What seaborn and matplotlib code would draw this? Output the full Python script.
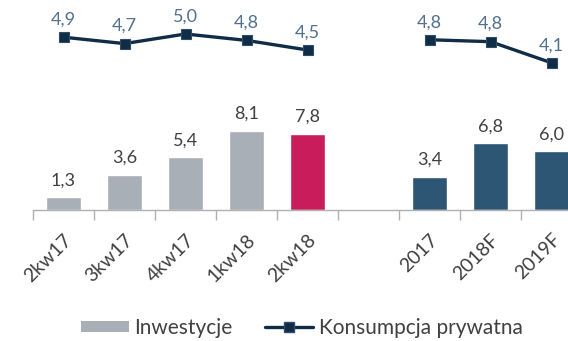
import matplotlib
matplotlib.use("Agg")
import matplotlib.pyplot as plt
from matplotlib.patches import Patch
from matplotlib.lines import Line2D
import numpy as np
import pandas as pd
import seaborn as sns

# Categories (a blank slot separates quarterly and annual data)
categories = ["2kw17", "3kw17", "4kw17", "1kw18", "2kw18", " ", "2017", "2018F", "2019F"]

# Investment growth (bars)
inv_labels = ["2kw17", "3kw17", "4kw17", "1kw18", "2kw18", "2017", "2018F", "2019F"]
inv_values = [1.3, 3.6, 5.4, 8.1, 7.8, 3.4, 6.8, 6.0]

# Private consumption growth (line), two separate segments
cons_labels = ["2kw17", "3kw17", "4kw17", "1kw18", "2kw18", "2017", "2018F", "2019F"]
cons_values = [4.9, 4.7, 5.0, 4.8, 4.5, 4.82, 4.76, 4.1]
cons_groups = ["q", "q", "q", "q", "q", "y", "y", "y"]

GRAY = "#a8afb6"
CRIMSON = "#c81d5a"
BLUE = "#2d5574"
NAVY = "#102c47"
LINE_LBL = "#52708f"
TXT = "#404040"

bar_colors = {c: GRAY for c in ["2kw17", "3kw17", "4kw17", "1kw18"]}
bar_colors["2kw18"] = CRIMSON
bar_colors.update({c: BLUE for c in ["2017", "2018F", "2019F"]})

sns.set_theme(style="white")
plt.rcParams["font.family"] = ["Lato", "DejaVu Sans"]

fig = plt.figure(figsize=(5.68, 3.41), dpi=100)
ax = fig.add_axes([33 / 568, 1 - 210 / 341, 549 / 568, 200 / 341])

df_bar = pd.DataFrame({"cat": inv_labels, "val": inv_values})
sns.barplot(data=df_bar, x="cat", y="val", hue="cat", order=categories,
            palette=bar_colors, width=0.56, legend=False, ax=ax, saturation=1)
ax.set_ylim(0, 20.4)
ax.set_xlim(-0.5, 8.5)

for lab, v in zip(inv_labels, inv_values):
    x = categories.index(lab)
    ax.text(x, v + 0.9, f"{v:.1f}".replace(".", ","), ha="center", va="bottom",
            fontsize=13, color=TXT)

# axis styling
for s in ["top", "right", "left"]:
    ax.spines[s].set_visible(False)
ax.spines["bottom"].set_color("#b0b0b0")
ax.spines["bottom"].set_linewidth(1.0)
ax.set_yticks([])
ax.set_xlabel("")
ax.set_ylabel("")
ax.set_xticks(range(len(categories)))
ax.set_xticklabels(categories, rotation=45, ha="right", rotation_mode="anchor",
                   fontsize=14, color=TXT)
ax.tick_params(axis="x", which="major", length=0, pad=15)
ax.set_xticks(np.arange(-0.5, len(categories), 1.0), minor=True)
ax.tick_params(axis="x", which="minor", length=7, width=1.0, color="#b0b0b0",
               bottom=True)

# Consumption line on a secondary scale
ax2 = ax.twinx()
df_line = pd.DataFrame({"pos": [categories.index(c) for c in cons_labels],
                        "val": cons_values, "grp": cons_groups})
sns.lineplot(data=df_line, x="pos", y="val", units="grp", estimator=None,
             color=NAVY, lw=2.4, marker="s", markersize=7,
             markeredgecolor="#2f4c6a", markeredgewidth=0.8, ax=ax2)
ax2.set_ylim(-0.5, 5.75)
ax2.set_xlim(-0.5, 8.5)
ax2.set_yticks([])
ax2.set_ylabel("")
ax2.set_xlabel("")
for s in ["top", "right", "left", "bottom"]:
    ax2.spines[s].set_visible(False)
for lab, v in zip(cons_labels, cons_values):
    x = categories.index(lab)
    ax2.text(x, v + 0.3, f"{v:.1f}".replace(".", ","), ha="center", va="bottom",
             fontsize=13, color=LINE_LBL)

handles = [Patch(facecolor=GRAY, edgecolor="none"),
           Line2D([0], [0], color=NAVY, lw=2.4, marker="s", markersize=7,
                  markeredgecolor="#2f4c6a")]
fig.legend(handles, ["Inwestycje", "Konsumpcja prywatna"], loc="lower left",
           bbox_to_anchor=(62 / 568, -0.046), ncol=2, frameon=False,
           fontsize=15, labelcolor=TXT, handlelength=2.3, handleheight=0.45,
           columnspacing=1.6, handletextpad=0.25)

fig.savefig("out.png", dpi=100)
